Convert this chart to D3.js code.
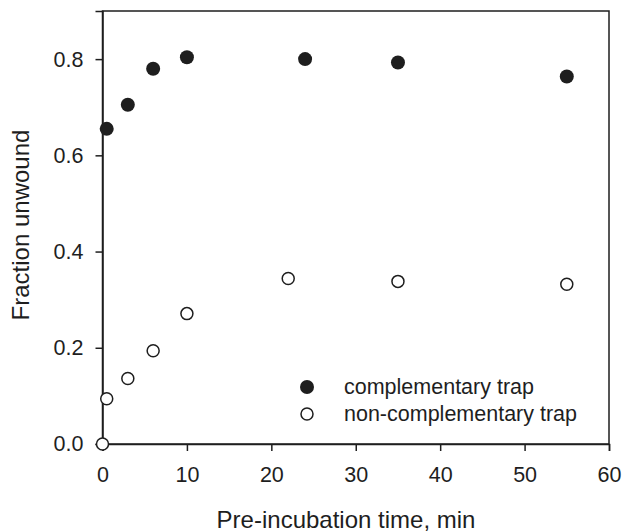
<!DOCTYPE html>
<html>
<head>
<meta charset="utf-8">
<script src="https://cdn.jsdelivr.net/npm/d3@7"></script>
<style>
  body { margin: 0; background: #fff; }
  svg { display: block; font-family: "Liberation Sans", Arial, sans-serif; }
</style>
</head>
<body>
<div id="chart"></div>
<script>
// data
const timeComp = [0.5, 3, 6, 10, 24, 35, 55];
const fracComp = [0.655, 0.705, 0.780, 0.804, 0.800, 0.793, 0.764];
const timeNonComp = [0, 0.5, 3, 6, 10, 22, 35, 55];
const fracNonComp = [0.0, 0.094, 0.136, 0.194, 0.271, 0.344, 0.338, 0.332];
const xTicks = [0, 10, 20, 30, 40, 50, 60];
const yTicks = [0.0, 0.2, 0.4, 0.6, 0.8];
const legendLabels = ['complementary trap', 'non-complementary trap'];

const width = 623, height = 532;
const margin = { left: 102.5, right: 14, top: 11, bottom: 88 };
const ink = '#1e1e1e';

const svg = d3.select('#chart').append('svg')
  .attr('width', width).attr('height', height);

const x = d3.scaleLinear().domain([0, 60]).range([margin.left, width - margin.right]);
const y = d3.scaleLinear().domain([0, 0.9]).range([height - margin.bottom, margin.top]);

// frame
svg.append('rect')
  .attr('x', x(0)).attr('y', y(0.9))
  .attr('width', x(60) - x(0)).attr('height', y(0) - y(0.9))
  .attr('fill', 'none').attr('stroke', ink).attr('stroke-width', 1.5);

// axes
const xAxis = svg.append('g')
  .attr('transform', `translate(0,${y(0)})`)
  .call(d3.axisBottom(x).tickValues(xTicks).tickSize(7).tickPadding(16).tickFormat(d3.format('d')));
const yAxis = svg.append('g')
  .attr('transform', `translate(${x(0)},0)`)
  .call(d3.axisLeft(y).tickValues(yTicks).tickSize(7).tickPadding(12).tickFormat(d3.format('.1f')));

[xAxis, yAxis].forEach(a => {
  a.select('.domain').attr('stroke', ink).attr('stroke-width', 1.5);
  a.selectAll('.tick line').attr('stroke', ink).attr('stroke-width', 1.5);
  a.selectAll('.tick text').attr('fill', ink).style('font-size', '21.5px')
    .style('font-family', '"Liberation Sans", Arial, sans-serif');
});

// axis titles
svg.append('text')
  .attr('x', 346).attr('y', 528)
  .attr('text-anchor', 'middle').attr('fill', ink)
  .style('font-size', '24px')
  .text('Pre-incubation time, min');

svg.append('text')
  .attr('transform', 'translate(29,225) rotate(-90)')
  .attr('text-anchor', 'middle').attr('fill', ink)
  .style('font-size', '24px')
  .text('Fraction unwound');

// points
const comp = timeComp.map((t, i) => ({ t: t, f: fracComp[i] }));
const nonComp = timeNonComp.map((t, i) => ({ t: t, f: fracNonComp[i] }));

svg.append('g').selectAll('circle')
  .data(nonComp).enter().append('circle')
  .attr('cx', d => x(d.t)).attr('cy', d => y(d.f)).attr('r', 6)
  .attr('fill', '#fff').attr('stroke', ink).attr('stroke-width', 1.5);

svg.append('g').selectAll('circle')
  .data(comp).enter().append('circle')
  .attr('cx', d => x(d.t)).attr('cy', d => y(d.f)).attr('r', 7)
  .attr('fill', ink);

// legend
const legend = svg.append('g').attr('transform', 'translate(307,387)');
legendLabels.forEach((lab, i) => {
  const row = legend.append('g').attr('transform', `translate(0,${i * 27})`);
  if (i === 0) {
    row.append('circle').attr('r', 7).attr('fill', ink);
  } else {
    row.append('circle').attr('r', 6).attr('fill', '#fff')
      .attr('stroke', ink).attr('stroke-width', 1.5);
  }
  row.append('text')
    .attr('x', 37).attr('y', 7)
    .attr('fill', ink).style('font-size', '21.5px')
    .text(lab);
});
</script>
</body>
</html>
